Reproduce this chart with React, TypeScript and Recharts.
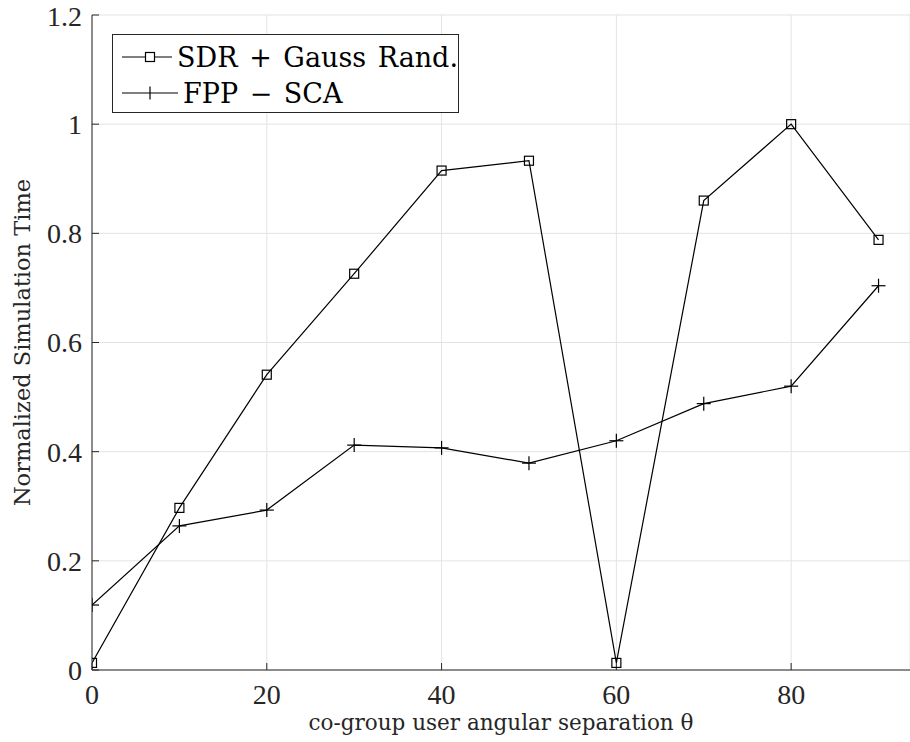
import { LineChart, Line, XAxis, YAxis, CartesianGrid, Legend } from 'recharts'

const angles = [0, 10, 20, 30, 40, 50, 60, 70, 80, 90]
const sdrTime = [0.013, 0.297, 0.541, 0.726, 0.915, 0.933, 0.013, 0.86, 1.0, 0.788]
const fppTime = [0.119, 0.264, 0.293, 0.412, 0.407, 0.379, 0.42, 0.488, 0.52, 0.704]
const xTicks = [0, 20, 40, 60, 80]
const yTicks = [0, 0.2, 0.4, 0.6, 0.8, 1, 1.2]

const data = angles.map((a, i) => ({ angle: a, sdr: sdrTime[i], fpp: fppTime[i] }))

const NUM_FONT = '"Liberation Serif", "DejaVu Serif", serif'
const TEXT_FONT = '"DejaVu Serif", "Liberation Serif", serif'

const SquareDot = (props: any) => {
  const { cx, cy } = props
  if (cx == null || cy == null) return null
  return <rect x={cx - 4.5} y={cy - 4.5} width={9} height={9} fill="none" stroke="#000" strokeWidth={1.2} />
}

const PlusDot = (props: any) => {
  const { cx, cy } = props
  if (cx == null || cy == null) return null
  return (
    <g stroke="#000" strokeWidth={1.2}>
      <line x1={cx - 7} y1={cy} x2={cx + 7} y2={cy} />
      <line x1={cx} y1={cy - 7} x2={cx} y2={cy + 7} />
    </g>
  )
}

const legendRow = { display: 'flex', alignItems: 'center', height: 36, whiteSpace: 'nowrap' as const }

const LegendBox = () => (
  <div
    style={{
      border: '1px solid #262626',
      background: '#fff',
      width: 347,
      height: 79,
      boxSizing: 'border-box',
      fontFamily: TEXT_FONT,
      fontSize: 27,
      color: '#000',
      padding: '4px 0 0 9px',
      wordSpacing: 3,
    }}
  >
    <div style={legendRow}>
      <svg width={56} height={20}>
        <line x1={0} y1={10} x2={56} y2={10} stroke="#000" strokeWidth={1.2} />
        <rect x={23.5} y={5.5} width={9} height={9} fill="#fff" stroke="#000" strokeWidth={1.2} />
      </svg>
      <span style={{ marginLeft: 5 }}>SDR + Gauss Rand.</span>
    </div>
    <div style={legendRow}>
      <svg width={56} height={20}>
        <line x1={0} y1={10} x2={56} y2={10} stroke="#000" strokeWidth={1.2} />
        <line x1={28} y1={3.5} x2={28} y2={16.5} stroke="#000" strokeWidth={1.2} />
      </svg>
      <span style={{ marginLeft: 5 }}>FPP − SCA</span>
    </div>
  </div>
)

export default function App() {
  return (
    <div style={{ position: 'absolute', left: 0, top: 0, width: 910, height: 742, background: '#fff', overflow: 'hidden' }}>
      <LineChart width={910} height={742} data={data} margin={{ top: 15, right: 0, bottom: 0, left: 0 }}>
        <CartesianGrid stroke="#e3e3e3" strokeWidth={1} />
        <XAxis
          dataKey="angle"
          type="number"
          domain={[0, 93.6]}
          ticks={xTicks}
          height={72}
          tickSize={-7}
          tickMargin={21}
          stroke="#262626"
          tick={{ fill: '#262626', fontSize: 28, fontFamily: NUM_FONT }}
          allowDataOverflow
          label={{
            value: 'co-group user angular separation θ',
            position: 'insideBottom',
            offset: 12,
            style: { fill: '#262626', fontSize: 21.5, fontFamily: TEXT_FONT },
          }}
        />
        <YAxis
          type="number"
          domain={[0, 1.2]}
          ticks={yTicks}
          width={92}
          tickSize={-7}
          tickMargin={17}
          stroke="#262626"
          tick={{ fill: '#262626', fontSize: 28, fontFamily: NUM_FONT }}
          label={{
            value: 'Normalized Simulation Time',
            angle: -90,
            position: 'insideLeft',
            offset: 22,
            style: { fill: '#262626', fontSize: 22.5, fontFamily: TEXT_FONT, textAnchor: 'middle' },
          }}
        />
        <Legend
          content={<LegendBox />}
          layout="horizontal"
          verticalAlign="middle"
          align="center"
          wrapperStyle={{ left: 112, top: 34, width: 347 }}
        />
        <Line
          dataKey="sdr"
          stroke="#000"
          strokeWidth={1.2}
          dot={<SquareDot />}
          activeDot={false}
          isAnimationActive={false}
        />
        <Line
          dataKey="fpp"
          stroke="#000"
          strokeWidth={1.2}
          dot={<PlusDot />}
          activeDot={false}
          isAnimationActive={false}
        />
      </LineChart>
    </div>
  )
}
